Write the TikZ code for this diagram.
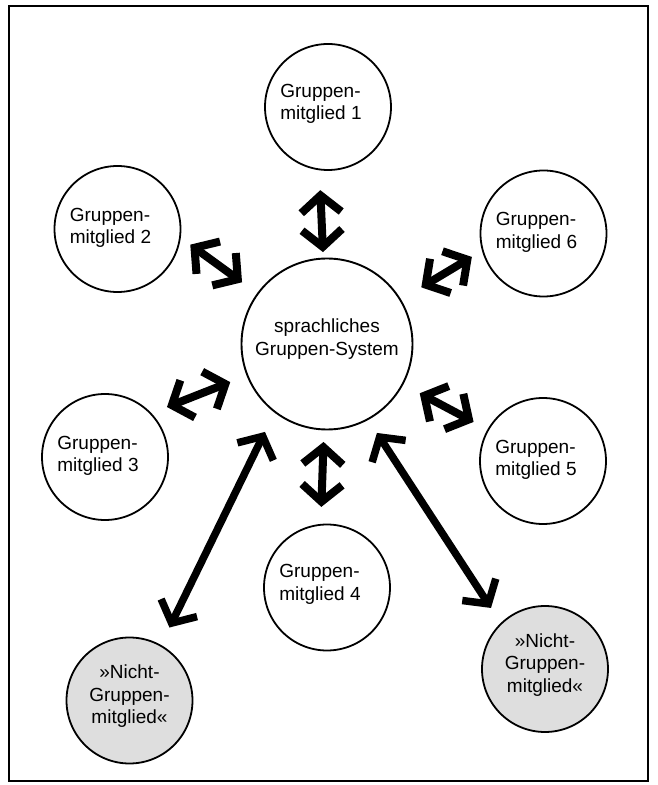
\documentclass[tikz,border=0pt]{standalone}
\usepackage{fontspec}
\setmainfont{Liberation Sans}
\usetikzlibrary{arrows.meta,calc}
\begin{document}
\begin{tikzpicture}[x=1pt,y=1pt,
  member/.style={circle,draw,line width=1.8pt,minimum size=126pt,inner sep=0pt},
  other/.style={member,fill=black!13},
  sysbox/.style={circle,draw,line width=1.9pt,minimum size=171pt,inner sep=0pt},
  lbl/.style={font=\fontsize{19}{22.5}\selectfont,align=left,inner sep=0pt},
  clbl/.style={lbl,align=center},
  barb/.tip={Straight Barb[length=17pt,width=40pt]},
  dbl/.style={line width=8pt,barb-barb},
]
\useasboundingbox (0,0) rectangle (658,785);
\node[draw,line width=1.6pt,minimum width=639pt,minimum height=775pt,inner sep=0pt,anchor=south west] (frame) at (8,3) {};

\node[sysbox] (sys) at (327,441) {};
\node[clbl] (syst) at ($(sys)+(0,5)$) {sprachliches\\Gruppen-System};

\node[member] (m1) at (328,678) {};
\node[member] (m2) at (117.5,556) {};
\node[member] (m6) at (543.5,551.5) {};
\node[member] (m3) at (105,328) {};
\node[member] (m5) at (543,324) {};
\node[member] (m4) at (327,197.5) {};
\node[other] (nl) at (129.5,84.5) {};
\node[other] (nr) at (545,116) {};

\node[lbl] (m1t) at ($(m1)+(-7,3)$) {Gruppen-\\mitglied 1};
\node[lbl] (m2t) at ($(m2)+(-7,1)$) {Gruppen-\\mitglied 2};
\node[lbl] (m6t) at ($(m6)+(-7,1)$) {Gruppen-\\mitglied 6};
\node[lbl] (m3t) at ($(m3)+(-7,1)$) {Gruppen-\\mitglied 3};
\node[lbl] (m5t) at ($(m5)+(-7,1)$) {Gruppen-\\mitglied 5};
\node[lbl] (m4t) at ($(m4)+(-7,3)$) {Gruppen-\\mitglied 4};
\node[clbl] (nlt) at ($(nl)+(0,4)$) {»Nicht-\\Gruppen-\\mitglied«};
\node[clbl] (nrt) at ($(nr)+(0,4)$) {»Nicht-\\Gruppen-\\mitglied«};

\draw[dbl] ($(sys)+(92.5:92)$) -- ($(sys)+(92.5:154)$);
\draw[dbl] ($(sys)+(144:105)$) -- ($(sys)+(144:169)$);
\draw[dbl] ($(sys)+(31:110)$) -- ($(sys)+(31:169)$);
\draw[dbl] ($(sys)+(201.5:104)$) -- ($(sys)+(201.5:172)$);
\draw[dbl] ($(sys)+(-28:105)$) -- ($(sys)+(-28:166)$);
\draw[dbl] ($(sys)+(-92:98)$) -- ($(sys)+(-92:163)$);
\draw[dbl,line width=7.5pt] ($(sys)+(234.8:107.6)$) -- ($(nl)+(61.3:83.2)$);
\draw[dbl,line width=7.5pt] ($(sys)+(-60.7:102)$) -- ($(nr)+(131.5:81.5)$);
\end{tikzpicture}
\end{document}
